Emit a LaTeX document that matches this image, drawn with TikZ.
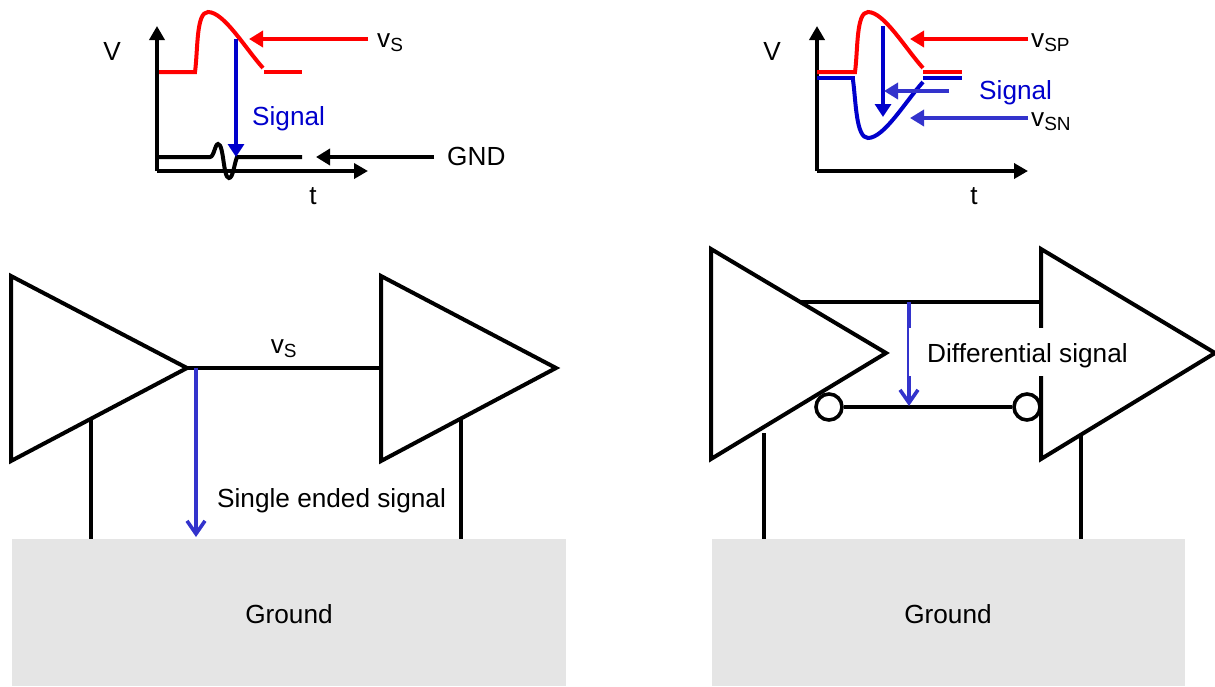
\documentclass[tikz,border=0pt]{standalone}
\usepackage{fontspec}
\setmainfont{Liberation Sans}
\usetikzlibrary{arrows.meta}
\definecolor{sigblue}{RGB}{0,0,204}
\definecolor{arrblue}{RGB}{51,51,204}
\definecolor{gndgray}{RGB}{229,229,229}
\tikzset{
  x=1pt,y=-1pt,
  lbl/.style={inner sep=0pt,font=\fontsize{26.2}{29}\selectfont,anchor=base},
  thick line/.style={line width=4pt,line join=miter},
  wire/.style={line width=3.6pt},
  axis/.style={line width=4pt,-{Triangle[length=14pt,width=15pt]}},
  red tip/.style={line width=4pt,red,-{Triangle[length=14pt,width=16pt]}},
  blue tip/.style={line width=4pt,arrblue,-{Triangle[length=14pt,width=16pt]}},
  black tip/.style={line width=4pt,black,-{Triangle[length=14pt,width=16pt]}},
  sig tip/.style={line width=4pt,sigblue,-{Triangle[length=13pt,width=16pt]}},
  barb tip/.style={line width=3.6pt,arrblue,-{Straight Barb[length=13pt,width=18pt,line width=3.6pt]}},
  gndbox/.style={fill=gndgray,draw=none},
  amp/.style={line width=4pt,fill=white,line join=miter},
  bubble/.style={circle,draw,line width=3.6pt,fill=white,minimum size=26pt,inner sep=0pt},
}
\newcommand{\vsub}[1]{v\textsubscript{\fontsize{19}{21}\selectfont #1}}
\begin{document}
\begin{tikzpicture}
\useasboundingbox (0,0) rectangle (1215,686);
% ---- ground boxes
\fill[gndbox] (12,539) rectangle (566,686);
\fill[gndbox] (712,539) rectangle (1185,686);
\node[lbl] (g1) at (289,623) {Ground};
\node[lbl] (g2) at (948,623) {Ground};
% ---- top left plot
\coordinate (o1) at (157,171);
\coordinate (vt1) at (157,26);
\coordinate (ht1) at (368,171);
\draw[axis] (o1) -- (vt1);
\draw[axis] (o1) -- (ht1);
\draw[thick line,red] (159,72) -- (195,72) .. controls (198,50) and (196,12) .. (208,12) .. controls (224,12) and (245,48) .. (263,68);
\draw[thick line,red] (264,72) -- (302,72);
\draw[thick line] (157,157) -- (210,157) .. controls (214,157) and (215,144) .. (218,144) .. controls (224,144) and (223,178) .. (229,178) .. controls (233,178) and (234,165) .. (237,157) -- (302,157);
\coordinate (sa) at (236,39);
\coordinate (sb) at (236,157);
\draw[sig tip] (sa) -- (sb);
\coordinate (vsa) at (368,39);
\coordinate (vsb) at (249,39);
\draw[red tip] (vsa) -- (vsb);
\coordinate (ga) at (434,157);
\coordinate (gb) at (316,157);
\draw[black tip] (ga) -- (gb);
\node[lbl] (v1) at (112,60) {V};
\node[lbl] (t1) at (313,204) {t};
\node[lbl,anchor=base west] (vs) at (377,47) {\vsub{S}};
\node[lbl,anchor=base west,text=sigblue] (sig1) at (252,125) {Signal};
\node[lbl,anchor=base west] (gnd) at (447,165) {GND};
% ---- top right plot
\coordinate (o2) at (817,171);
\coordinate (vt2) at (817,26);
\coordinate (ht2) at (1028,171);
\draw[axis] (o2) -- (vt2);
\draw[axis] (o2) -- (ht2);
\draw[thick line,sigblue] (817,78) -- (855,78);
\draw[thick line,sigblue] (923,78) -- (962,78);
\draw[thick line,sigblue] (853,80) .. controls (856,102) and (856,138) .. (868,138) .. controls (884,138) and (905,102) .. (923,82);
\draw[thick line,red] (817,72) -- (855,72) .. controls (858,50) and (856,12) .. (868,12) .. controls (884,12) and (905,48) .. (923,68);
\draw[thick line,red] (923,72) -- (962,72);
\coordinate (sc) at (883,26);
\coordinate (sd) at (883,117);
\draw[sig tip] (sc) -- (sd);
\coordinate (ha) at (949,91);
\coordinate (hb) at (884,91);
\draw[blue tip] (ha) -- (hb);
\coordinate (vpa) at (1028,39);
\coordinate (vpb) at (910,39);
\draw[red tip] (vpa) -- (vpb);
\coordinate (vna) at (1028,118);
\coordinate (vnb) at (910,118);
\draw[blue tip] (vna) -- (vnb);
\node[lbl] (v2) at (772,60) {V};
\node[lbl] (t2) at (974,204) {t};
\node[lbl,anchor=base west] (vsp) at (1031,47) {\vsub{SP}};
\node[lbl,anchor=base west,text=sigblue] (sig2) at (979,99) {Signal};
\node[lbl,anchor=base west] (vsn) at (1031,126) {\vsub{SN}};
% ---- bottom left
\coordinate (a1) at (11,276);
\coordinate (a2) at (187,368);
\coordinate (a3) at (11,461);
\coordinate (b1) at (381,276);
\coordinate (b2) at (556,368);
\coordinate (b3) at (381,461);
\draw[wire] (91,420) -- (91,539);
\draw[wire] (461,420) -- (461,539);
\draw[amp] (a1) -- (a2) -- (a3) -- cycle;
\draw[amp] (b1) -- (b2) -- (b3) -- cycle;
\draw[thick line] (a2) -- (b1 |- a2);
\node[lbl] (vs2) at (284,353) {\vsub{S}};
\coordinate (sea) at (196,368);
\coordinate (seb) at (196,537);
\draw[barb tip] (sea) -- (seb);
\node[lbl,anchor=base west] (se) at (217,507) {Single ended signal};
% ---- bottom right
\coordinate (c1) at (711,249);
\coordinate (c2) at (886,353);
\coordinate (c3) at (711,459);
\coordinate (d1) at (1041,249);
\coordinate (d2) at (1215,353);
\coordinate (d3) at (1041,459);
\draw[wire] (764,433) -- (764,539);
\draw[wire] (1081,433) -- (1081,539);
\draw[amp] (c1) -- (c2) -- (c3) -- cycle;
\draw[amp] (d1) -- (d2) -- (d3) -- cycle;
\coordinate (vp1) at (800,302);
\coordinate (vp2) at (1041,302);
\draw[thick line] (vp1) -- (vp2);
\node[bubble] (bl) at (829,407) {};
\node[bubble] (br) at (1027,407) {};
\draw[thick line] (bl) -- (br);
\coordinate (dfa) at (909,302);
\coordinate (dfb) at (909,406);
\draw[barb tip] (dfa) -- (dfb);
\fill[white] (909,328) rectangle (1135,376);
\node[lbl,anchor=base west] (df) at (927,362) {Differential signal};
\end{tikzpicture}
\end{document}
